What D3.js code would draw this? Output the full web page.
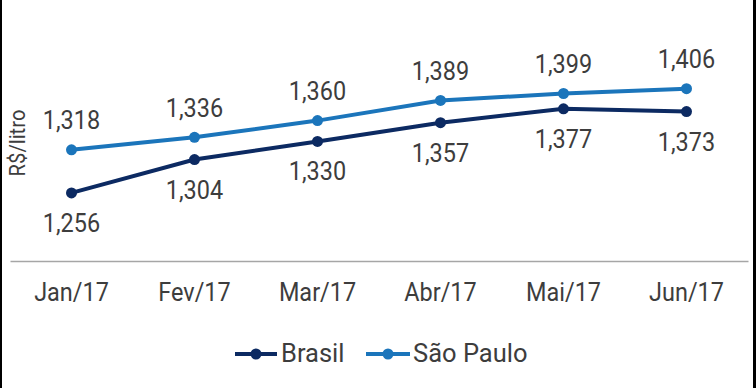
<!DOCTYPE html>
<html><head><meta charset="utf-8">
<script src="https://cdn.jsdelivr.net/npm/d3@7"></script>
<style>
html,body{margin:0;padding:0;background:#fff;}
svg{display:block;font-family:Roboto,sans-serif;}
</style></head>
<body>
<svg id="c" width="756" height="388"></svg>
<script>
const categories = ["Jan/17","Fev/17","Mar/17","Abr/17","Mai/17","Jun/17"];
const brasil = [1.256,1.304,1.330,1.357,1.377,1.373];
const saoPaulo = [1.318,1.336,1.360,1.389,1.399,1.406];
const seriesNames = ["Brasil","São Paulo"];
const colors = ["#0c2a62","#1b75bb"];

const svg = d3.select("#c");
const W = 756, H = 388;
const SX = 0.92, FS = 25.5, TXT = "#3d3d3d";
// borders
svg.append("rect").attr("x",0).attr("y",0).attr("width",2).attr("height",H).attr("fill","#000");
svg.append("rect").attr("x",753).attr("y",0).attr("width",3).attr("height",H).attr("fill","#000");

const x = d3.scaleBand().domain(categories).range([10,748]);
const y = d3.scaleLinear().domain([1.157,1.5]).range([261.7,23.3]);
const fmt = v => d3.format(".3f")(v).replace(".",",");

// axis line
const xAxis = d3.axisBottom(x).tickSize(0).tickPadding(0);
const ax = svg.append("g").attr("transform","translate(0,261)").call(xAxis);
ax.select(".domain").attr("stroke","#a6a6a6").attr("stroke-width",1.3);
ax.selectAll("text").attr("dy",null).attr("y",40.5).attr("font-size",FS).attr("fill",TXT)
  .attr("font-family","Roboto").attr("transform",`scale(${SX},1)`);

// y title
svg.append("text").attr("transform",`translate(25,143) rotate(-90) scale(${SX},1)`)
  .attr("text-anchor","middle").attr("font-size",22).attr("fill",TXT).text("R$/litro");

const series = [brasil, saoPaulo];
const cx = i => x(categories[i]) + x.bandwidth()/2;
const line = d3.line().x((d,i)=>cx(i)).y(d=>y(d));
series.forEach((s,k)=>{
  svg.append("path").datum(s).attr("d",line).attr("fill","none")
    .attr("stroke",colors[k]).attr("stroke-width",4);
  svg.selectAll(null).data(s).enter().append("circle")
    .attr("cx",(d,i)=>cx(i)).attr("cy",d=>y(d))
    .attr("r",5.5).attr("fill",colors[k]);
  svg.selectAll(null).data(s).enter().append("text")
    .attr("transform",(d,i)=>`translate(${cx(i)},${y(d)+(k===0?39:-20.5)}) scale(${SX},1)`)
    .attr("text-anchor","middle").attr("font-size",FS).attr("fill",TXT)
    .text(d=>fmt(d));
});

// legend
const leg = [{x0:235,x1:277,tx:281},{x0:366,x1:410,tx:413}];
leg.forEach((l,k)=>{
  svg.append("line").attr("x1",l.x0).attr("x2",l.x1).attr("y1",354).attr("y2",354)
    .attr("stroke",colors[k]).attr("stroke-width",4);
  svg.append("circle").attr("cx",(l.x0+l.x1)/2).attr("cy",354).attr("r",5.5).attr("fill",colors[k]);
  svg.append("text").attr("transform",`translate(${l.tx},362)`)
    .attr("font-size",FS).attr("fill",TXT).text(seriesNames[k]);
});
</script>
</body></html>
